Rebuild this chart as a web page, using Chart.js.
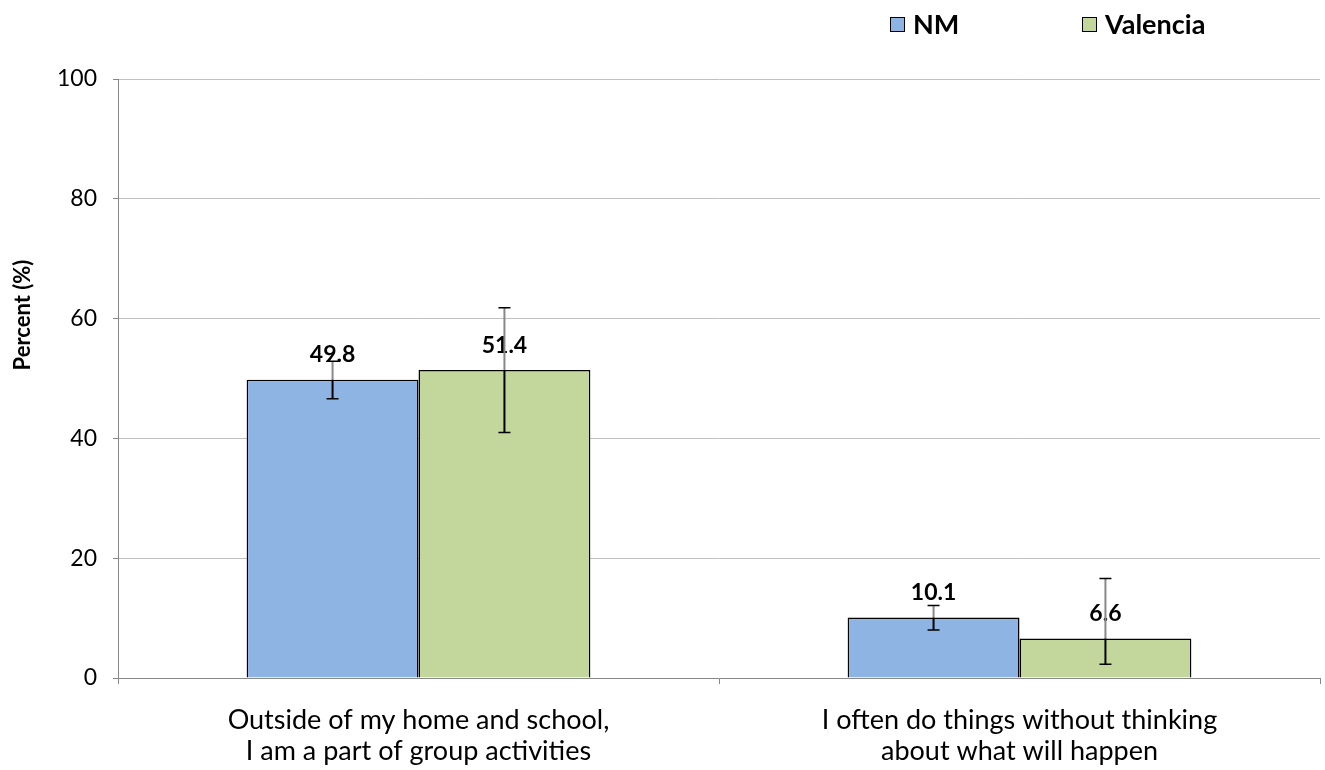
<!DOCTYPE html>
<html><head><meta charset="utf-8">
<script src="https://cdn.jsdelivr.net/npm/chart.js@4"></script>
<style>html,body{margin:0;padding:0;background:#fff}#wrap{width:1325px;height:770px}</style>
</head><body><div id="wrap"><canvas id="c" width="1325" height="770"></canvas></div>
<script>
const categories = [["Outside of my home and school,","I am a part of group activities"],["I often do things without thinking","about what will happen"]];
const seriesNames = ["NM","Valencia"];
const nmValues = [49.8, 10.1];
const valenciaValues = [51.4, 6.6];
const nmLow = [46.6, 8.0];
const nmHigh = [52.9, 12.1];
const valenciaLow = [41.0, 2.3];
const valenciaHigh = [61.8, 16.6];
const yTicks = [0, 20, 40, 60, 80, 100];
const yTitle = "Percent (%)";

const FONT = "Lato, 'Open Sans', sans-serif";
const colors = ["#8EB4E3", "#C3D69B"];
const errLow = [nmLow, valenciaLow];
const errHigh = [nmHigh, valenciaHigh];

const overlay = {
  id: 'overlay',
  afterDatasetsDraw(chart) {
    const ctx = chart.ctx;
    const y = chart.scales.y;
    chart.data.datasets.forEach((ds, di) => {
      const meta = chart.getDatasetMeta(di);
      meta.data.forEach((bar, i) => {
        const v = ds.data[i];
        ctx.save();
        ctx.font = "bold 23px " + FONT;
        ctx.fillStyle = "#000";
        ctx.textAlign = "center";
        ctx.textBaseline = "middle";
        ctx.fillText(v.toFixed(1), bar.x, bar.y - 25);
        ctx.restore();
        const yl = y.getPixelForValue(errLow[di][i]);
        const yh = y.getPixelForValue(errHigh[di][i]);
        const yb = bar.y;
        ctx.save();
        ctx.lineWidth = 2;
        ctx.strokeStyle = "#888";
        ctx.beginPath(); ctx.moveTo(bar.x, yh); ctx.lineTo(bar.x, yb); ctx.stroke();
        ctx.strokeStyle = "#000";
        ctx.beginPath(); ctx.moveTo(bar.x, yb); ctx.lineTo(bar.x, yl); ctx.stroke();
        ctx.lineWidth = 1.5;
        ctx.beginPath();
        ctx.moveTo(bar.x - 6, yl); ctx.lineTo(bar.x + 6, yl);
        ctx.moveTo(bar.x - 6, yh); ctx.lineTo(bar.x + 6, yh);
        ctx.stroke();
        ctx.restore();
      });
    });
    // legend
    const legendX = [890, 1082];
    const legendY = 24.5;
    ctx.save();
    ctx.font = "bold 27px " + FONT;
    ctx.textBaseline = "middle";
    ctx.textAlign = "left";
    chart.data.datasets.forEach((ds, di) => {
      ctx.fillStyle = ds.backgroundColor;
      ctx.fillRect(legendX[di], legendY - 7.5, 15, 15);
      ctx.strokeStyle = "#000";
      ctx.lineWidth = 1;
      ctx.strokeRect(legendX[di] + 0.5, legendY - 7, 14, 14);
      ctx.fillStyle = "#000";
      ctx.fillText(ds.label, legendX[di] + 23, legendY + 1);
    });
    ctx.restore();
    // y axis title
    ctx.save();
    ctx.translate(23, 315);
    ctx.rotate(-Math.PI / 2);
    ctx.font = "bold 22px " + FONT;
    ctx.fillStyle = "#000";
    ctx.textAlign = "center";
    ctx.textBaseline = "middle";
    ctx.fillText(yTitle, 0, 0);
    ctx.restore();
  }
};

new Chart(document.getElementById('c'), {
  type: 'bar',
  data: {
    labels: categories,
    datasets: [
      { label: seriesNames[0], data: nmValues, backgroundColor: colors[0], borderColor: "#000", borderWidth: 1.5 },
      { label: seriesNames[1], data: valenciaValues, backgroundColor: colors[1], borderColor: "#000", borderWidth: 1.5 }
    ]
  },
  options: {
    responsive: false,
    animation: false,
    layout: { padding: { left: 10, right: 5, top: 79, bottom: 0 } },
    plugins: { legend: { display: false }, tooltip: { enabled: false } },
    datasets: { bar: { categoryPercentage: 0.572, barPercentage: 1.0 } },
    scales: {
      x: {
        afterFit(s) { s.height = 92; },
        grid: { offset: true, drawOnChartArea: false, tickLength: 6, color: "#888", lineWidth: 1 },
        border: { color: "#888", width: 1 },
        ticks: { color: "#000", font: { family: FONT, size: 27, lineHeight: 1.15 }, padding: 21, maxRotation: 0, autoSkip: false }
      },
      y: {
        min: 0, max: 100,
        afterFit(s) { s.width = 108; },
        afterBuildTicks(s) { s.ticks = yTicks.map(v => ({ value: v })); },
        grid: { color: "#c0c0c0", lineWidth: 1, tickLength: 5, tickColor: "#888" },
        border: { color: "#888", width: 1 },
        ticks: { color: "#000", font: { family: FONT, size: 23 }, padding: 16 }
      }
    }
  },
  plugins: [overlay]
});
</script>
</body></html>
